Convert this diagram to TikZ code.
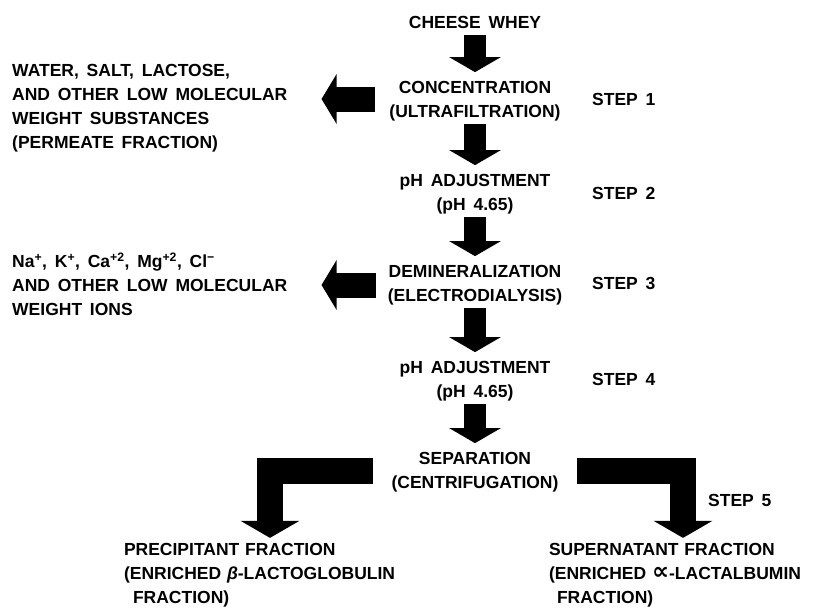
\documentclass[tikz,border=0pt]{standalone}
\usepackage{fontspec}
\setmainfont{Liberation Sans}[WordSpace=1.6]
\newfontfamily\glyphfont{DejaVu Sans}
\usepackage{tikz}
\usetikzlibrary{arrows.meta}
\definecolor{myink}{RGB}{0,0,0}
\tikzset{
  stage/.style={align=center, inner sep=0pt, text=myink,
    font=\fontsize{17.5}{23.5}\selectfont\bfseries},
  side/.style={align=left, inner sep=0pt, anchor=west, text=myink,
    font=\fontsize{17.5}{24}\selectfont\bfseries},
  product/.style={align=left, inner sep=0pt, text=myink,
    font=\fontsize{17.5}{24}\selectfont\bfseries},
  steplabel/.style={anchor=west, inner sep=0pt, text=myink,
    font=\fontsize{17.5}{21}\selectfont\bfseries},
  flow/.style={line width=22pt, color=myink,
    -{Triangle[width=51pt,length=15pt]}, shorten <=3pt, shorten >=9pt},
  drain/.style={line width=25pt, color=myink,
    -{Triangle[width=49pt,length=15pt]}},
  split/.style={line width=26pt, color=myink,
    -{Triangle[width=58pt,length=17pt]}}
}

\begin{document}
\begin{tikzpicture}[x=1pt,y=-1pt]
  \useasboundingbox (0,0) rectangle (826,608);

  % Main process line
  \node[stage] (whey)  at (475,22)  {CHEESE WHEY};
  \node[stage] (conc)  at (475,101) {CONCENTRATION\\(ULTRAFILTRATION)};
  \node[stage] (ph1)   at (475,194) {pH ADJUSTMENT\\(pH 4.65)};
  \node[stage] (demin) at (475,285) {DEMINERALIZATION\\(ELECTRODIALYSIS)};
  \node[stage] (ph2)   at (475,381) {pH ADJUSTMENT\\(pH 4.65)};
  \node[stage] (sep)   at (475,472) {SEPARATION\\(CENTRIFUGATION)};

  % Step numbers
  \node[steplabel] (step1) at (592,99)  {STEP 1};
  \node[steplabel] (step2) at (592,193) {STEP 2};
  \node[steplabel] (step3) at (592,283) {STEP 3};
  \node[steplabel] (step4) at (592,379) {STEP 4};
  \node[steplabel] (step5) at (708,500) {STEP 5};

  % Removed fractions
  \node[side] (perm) at (12,108) {WATER, SALT, LACTOSE,\\AND OTHER LOW MOLECULAR\\WEIGHT SUBSTANCES\\(PERMEATE FRACTION)};
  \node[side] (ions) at (12,284) {Na\textsuperscript{+}, K\textsuperscript{+}, Ca\textsuperscript{+2}, Mg\textsuperscript{+2}, Cl\textsuperscript{−}\\AND OTHER LOW MOLECULAR\\WEIGHT IONS};

  % Final products
  \node[product, text width=292pt] (prec) at (270,575) {PRECIPITANT FRACTION\\(ENRICHED \textit{β}-LACTOGLOBULIN\\\hspace*{9pt}FRACTION)};
  \node[product, text width=268pt] (super) at (683,575) {SUPERNATANT FRACTION\\(ENRICHED {\glyphfont\bfseries\fontsize{24}{24}\selectfont ∝}-LACTALBUMIN\\\hspace*{8pt}FRACTION)};

  % Block arrows down the process
  \draw[flow, shorten <=7pt] (whey) -- (conc);
  \draw[flow] (conc) -- (ph1);
  \draw[flow] (ph1) -- (demin);
  \draw[flow] (demin) -- (ph2);
  \draw[flow] (ph2) -- (sep);

  % Block arrows to the side streams
  \draw[drain, shorten <=14pt, shorten >=34pt] ([yshift=2pt]conc.west) -- ([yshift=2pt]perm.east |- conc.west);
  \draw[drain, shorten <=12pt, shorten >=34pt] (demin.west) -- (ions.east |- demin.west);

  % Split after centrifugation
  \draw[split, shorten <=18pt, shorten >=5pt] ([yshift=1.5pt]sep.west) -| (prec.north);
  \draw[split, shorten <=18pt, shorten >=5pt] ([yshift=1.5pt]sep.east) -| (super.north);
\end{tikzpicture}
\end{document}
